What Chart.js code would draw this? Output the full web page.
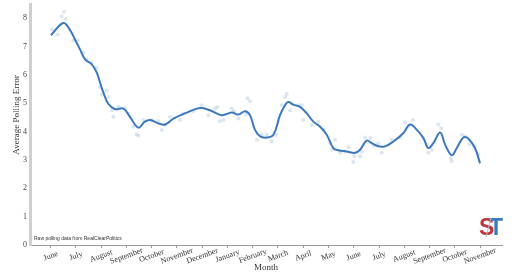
<!DOCTYPE html>
<html>
<head>
<meta charset="utf-8">
<script src="https://cdn.jsdelivr.net/npm/chart.js@4.4.0/dist/chart.umd.min.js"></script>
<style>
  html, body { margin: 0; padding: 0; background: #fff; }
  #wrap { width: 520px; height: 272px; position: relative; }
</style>
</head>
<body>
<div id="wrap"><canvas id="pollChart"></canvas></div>
<script>
// month labels, index 0 = June (first year)
var monthLabels = ["June", "July", "August", "September", "October", "November", "December",
  "January", "February", "March", "April", "May", "June", "July", "August", "September",
  "October", "November"];

// smoothed average polling error (x = months since first June)
var curveMonths = [0.01, 0.5, 0.76, 0.96, 1.16, 1.36, 1.62, 1.82, 1.95, 2.08, 2.28, 2.55, 2.88,
  3.14, 3.47, 3.73, 3.93, 4.26, 4.53, 4.86, 5.39, 5.91, 6.31, 6.77, 7.17, 7.43, 7.7, 7.89,
  8.09, 8.29, 8.55, 8.82, 9.08, 9.28, 9.41, 9.61, 9.87, 10.14, 10.4, 10.67, 10.93, 11.19,
  11.39, 11.72, 12.05, 12.25, 12.51, 12.71, 12.97, 13.24, 13.57, 13.96, 14.23, 14.5, 14.76,
  14.95, 15.15, 15.42, 15.62, 15.88, 16.08, 16.34, 16.54, 16.8, 17.0];
var curveValues = [7.40, 7.83, 7.59, 7.25, 6.90, 6.55, 6.38, 6.09, 5.74, 5.39, 4.98, 4.79, 4.81,
  4.52, 4.14, 4.35, 4.41, 4.29, 4.25, 4.46, 4.67, 4.83, 4.75, 4.58, 4.67, 4.60, 4.72, 4.58,
  4.06, 3.83, 3.79, 3.89, 4.58, 4.93, 5.04, 4.95, 4.87, 4.64, 4.35, 4.17, 3.89, 3.42,
  3.34, 3.30, 3.25, 3.36, 3.68, 3.59, 3.48, 3.48, 3.65, 3.94, 4.25, 4.06, 3.77,
  3.42, 3.59, 3.97, 3.54, 3.17, 3.42, 3.79, 3.75, 3.42, 2.88];

// raw poll points
var rawMonths = [0.06, 0.28, 0.43, 0.53, 0.59, 0.90, 1.07, 1.29, 1.42, 1.62, 1.82, 1.95, 2.02,
  2.22, 2.28, 2.42, 2.48, 2.68, 2.94, 3.07, 3.27, 3.40, 3.47, 3.67, 4.0, 4.26, 4.40, 4.53,
  4.72, 5.12, 5.25, 5.65, 5.98, 6.24, 6.51, 6.60, 6.70, 6.84, 7.17, 7.26, 7.43, 7.73, 7.79,
  7.89, 8.16, 8.36, 8.55, 8.75, 8.92, 9.15, 9.28, 9.35, 9.48, 9.81, 9.94, 10.0, 10.34, 10.60,
  10.80, 11.06, 11.13, 11.26, 11.46, 11.66, 11.79, 11.98, 12.02, 12.25, 12.32, 12.45, 12.65,
  12.78, 12.97, 13.11, 13.50, 13.83, 14.03, 14.16, 14.34, 14.89, 14.95, 15.09, 15.35, 15.46,
  15.84, 15.88, 16.28, 16.41, 16.58, 16.80, 16.93];
var rawValues = [7.59, 7.42, 8.06, 8.23, 7.97, 7.21, 7.22, 6.78, 6.55, 6.43, 6.24, 5.57, 5.31,
  5.45, 5.22, 4.75, 4.52, 4.87, 4.83, 4.64, 4.17, 3.91, 3.86, 4.41, 4.41, 4.37, 4.06, 4.23,
  4.52, 4.41, 4.64, 4.72, 4.93, 4.58, 4.81, 4.87, 4.37, 4.41, 4.81, 4.72, 4.46, 4.60, 5.18,
  5.07, 3.71, 3.89, 3.89, 3.65, 3.89, 4.93, 5.22, 5.33, 4.75, 4.93, 4.93, 4.41, 4.23, 4.35,
  4.06, 3.59, 3.36, 3.71, 3.25, 3.30, 3.44, 2.93, 3.13, 3.13, 3.30, 3.79, 3.77,
  3.51, 3.59, 3.25, 3.71, 3.79, 4.32, 4.21, 4.41, 3.54, 3.25, 3.36, 4.25, 4.12,
  3.07, 2.96, 3.89, 3.83, 3.56, 3.48, 3.19];

var yTicks = [0, 1, 2, 3, 4, 5, 6, 7, 8];

function toPoints(xs, ys) {
  return xs.map(function (x, i) { return { x: x, y: ys[i] }; });
}

var serif = "'Liberation Serif', 'DejaVu Serif', serif";

// month labels centred under ticks, axis titles, source note and logo
var decorations = {
  id: 'decorations',
  afterDraw: function (chart) {
    var c = chart.ctx;
    var xs = chart.scales.x;
    var area = chart.chartArea;
    c.save();
    c.fillStyle = '#333';
    c.font = '8px ' + serif;
    c.textAlign = 'center';
    c.textBaseline = 'middle';
    monthLabels.forEach(function (lab, i) {
      c.save();
      c.translate(xs.getPixelForValue(i), area.bottom + 11);
      c.rotate(-20 * Math.PI / 180);
      c.fillText(lab, 0, 0);
      c.restore();
    });

    c.font = '9px ' + serif;
    c.fillText('Month', (area.left + area.right) / 2, 268);

    c.save();
    c.translate(17, 115);
    c.rotate(-Math.PI / 2);
    c.fillText('Average Polling Error', 0, 0);
    c.restore();

    c.textAlign = 'left';
    c.font = "5px 'Liberation Sans', Arial, sans-serif";
    c.fillText('Raw polling data from RealClearPolitics', 34, 238.5);

    // ST logo
    c.textBaseline = 'alphabetic';
    c.font = "bold 23px 'Liberation Sans Narrow', 'Liberation Sans', Arial, sans-serif";
    c.fillStyle = '#c0363a';
    c.fillText('S', 479, 235);
    c.fillStyle = '#3a7cc4';
    c.fillText('T', 489, 235);
    c.strokeStyle = '#bbb';
    c.lineWidth = 1;
    c.beginPath();
    c.moveTo(491, 218);
    c.lineTo(486, 237);
    c.stroke();
    c.restore();
  }
};

var ctx = document.getElementById("pollChart").getContext("2d");

var pollChart = new Chart(ctx, {
  type: "scatter",
  data: {
    datasets: [{
      label: "Smoothed",
      data: toPoints(curveMonths, curveValues),
      showLine: true,
      borderColor: "#3b78bd",
      borderWidth: 2,
      pointRadius: 0,
      tension: 0.4,
      fill: false
    }, {
      label: "Raw polls",
      data: toPoints(rawMonths, rawValues),
      backgroundColor: "rgba(175, 200, 228, 0.45)",
      borderWidth: 0,
      pointRadius: 2
    }]
  },
  options: {
    responsive: true,
    maintainAspectRatio: false,
    animation: false,
    layout: {
      padding: { top: 1, right: 18, bottom: 0, left: 0 }
    },
    plugins: {
      legend: { display: false },
      tooltip: { enabled: false }
    },
    scales: {
      x: {
        type: "linear",
        min: -0.82,
        max: 17.87,
        afterBuildTicks: function (scale) {
          scale.ticks = monthLabels.map(function (m, i) { return { value: i }; });
        },
        afterFit: function (scale) {
          scale.height = 27;
          scale.paddingLeft = 0;
          scale.paddingRight = 0;
        },
        ticks: { display: false },
        grid: {
          display: true,
          drawOnChartArea: false,
          drawTicks: true,
          tickLength: 3,
          color: "#999"
        },
        border: { display: true, color: "#999", width: 1 }
      },
      y: {
        min: 0,
        max: 8.5,
        afterBuildTicks: function (scale) {
          scale.ticks = yTicks.map(function (v) { return { value: v }; });
        },
        afterFit: function (scale) {
          scale.width = 30;
          scale.paddingTop = 0;
          scale.paddingBottom = 0;
        },
        ticks: {
          color: "#444",
          padding: 3,
          font: { size: 8, family: serif }
        },
        grid: { display: false, drawTicks: false },
        border: { display: true, color: "#cfcfcf", width: 3 }
      }
    }
  },
  plugins: [decorations]
});
</script>
</body>
</html>
